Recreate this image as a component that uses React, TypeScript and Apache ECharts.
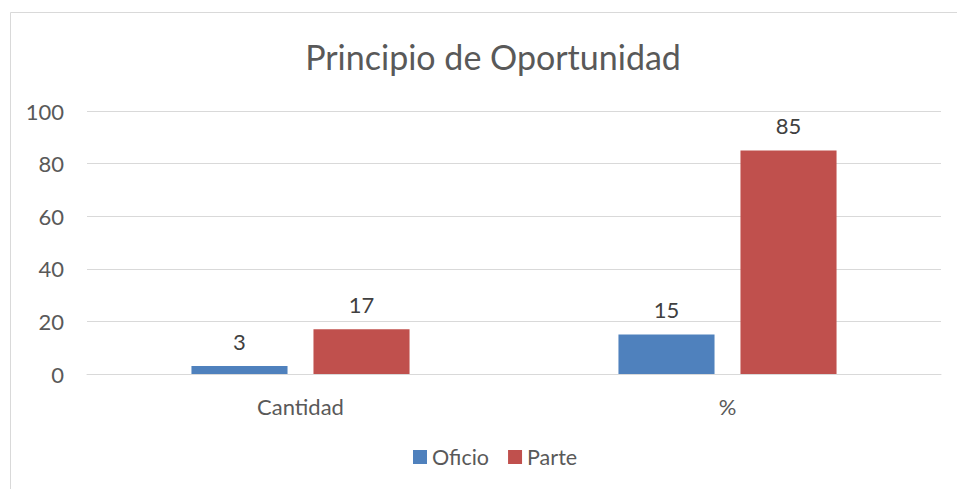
import React, { useEffect, useRef } from "react";
import * as echarts from "echarts";

const categories = ["Cantidad", "%"];
const oficio = [3, 15];
const parte = [17, 85];
const seriesNames = ["Oficio", "Parte"];

const FONT = "Lato, 'Open Sans', sans-serif";

export default function App() {
  const ref = useRef<HTMLDivElement>(null);
  useEffect(() => {
    if (!ref.current) return;
    const chart = echarts.init(ref.current, undefined, { renderer: "svg" });
    const label = {
      show: true,
      position: "top" as const,
      distance: 14,
      color: "#404040",
      fontSize: 22,
      fontFamily: FONT,
    };
    chart.setOption({
      animation: false,
      backgroundColor: "#ffffff",
      graphic: [
        {
          type: "rect",
          shape: { x: 10.5, y: 12.5, width: 1000, height: 600 },
          style: { fill: "none", stroke: "#d9d9d9", lineWidth: 1 },
          silent: true,
          z: -10,
        },
      ],
      title: {
        text: "Principio de Oportunidad",
        left: 488,
        top: 34,
        textAlign: "center",
        textStyle: {
          color: "#595959",
          fontSize: 34,
          fontWeight: "normal",
          fontFamily: FONT,
        },
      },
      legend: {
        data: seriesNames,
        bottom: 16,
        left: 408,
        itemWidth: 14,
        itemHeight: 14,
        itemGap: 19,
        icon: "rect",
        textStyle: { color: "#595959", fontSize: 21.5, fontFamily: FONT },
      },
      grid: { left: 87, right: 16, top: 111, bottom: 115 },
      xAxis: {
        type: "category",
        data: categories,
        axisTick: { show: false },
        axisLine: { lineStyle: { color: "#d9d9d9", width: 1 } },
        axisLabel: { color: "#595959", fontSize: 22, fontFamily: FONT, margin: 21 },
      },
      yAxis: {
        type: "value",
        min: 0,
        max: 100,
        interval: 20,
        axisLine: { show: false },
        axisTick: { show: false },
        splitLine: { lineStyle: { color: "#d9d9d9", width: 1 } },
        axisLabel: { color: "#595959", fontSize: 22, fontFamily: FONT, margin: 23 },
      },
      series: [
        {
          name: seriesNames[0],
          type: "bar",
          data: oficio,
          barWidth: "22.5%",
          barGap: "27%",
          itemStyle: { color: "#4F81BD" },
          label,
        },
        {
          name: seriesNames[1],
          type: "bar",
          data: parte,
          barWidth: "22.5%",
          itemStyle: { color: "#C0504D" },
          label,
        },
      ],
    });
    return () => chart.dispose();
  }, []);
  return (
    <div
      ref={ref}
      style={{ position: "fixed", left: 0, top: 0, width: 957, height: 489 }}
    />
  );
}
